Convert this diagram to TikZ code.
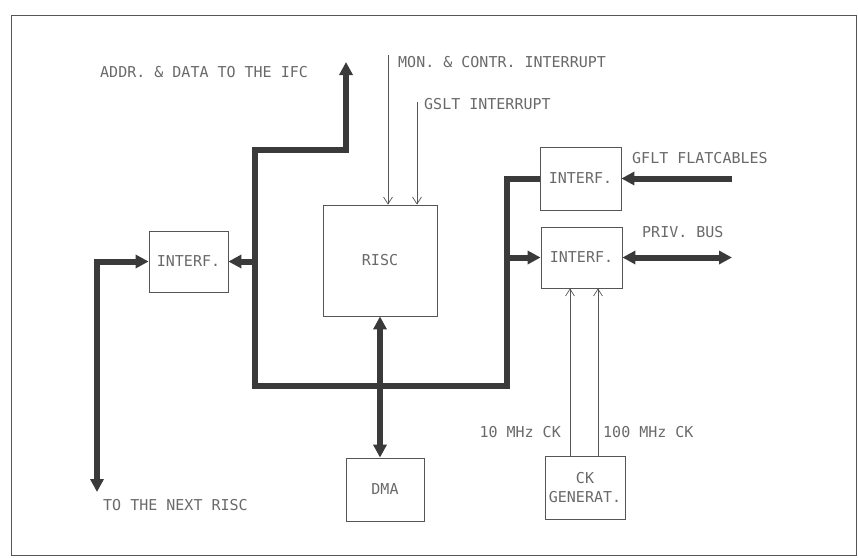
\documentclass[tikz,border=0pt]{standalone}
\usepackage{fontspec}
\setmonofont{DejaVu Sans Mono}
\usetikzlibrary{positioning, arrows.meta}
\definecolor{inkgray}{RGB}{85,85,85}
\definecolor{textgray}{RGB}{105,105,105}
\definecolor{busgray}{RGB}{58,58,58}
\newcommand{\plotfont}{\ttfamily\fontsize{15}{19}\selectfont}

\begin{document}
\begin{tikzpicture}[x=1pt, y=-1pt,
    box/.style={draw=inkgray, line width=0.8pt, inner sep=0pt, align=center,
        font=\plotfont, text=textgray},
    lbl/.style={font=\plotfont, text=textgray, inner sep=0pt, anchor=west},
    bus/.style={draw=busgray, line width=6pt},
    sig/.style={draw=inkgray, line width=0.7pt, -{Straight Barb[length=7pt,width=9pt]}},
    btip/.tip={Triangle[length=13pt,width=13pt]}
]
    \useasboundingbox (0,0) rectangle (858,557);
    \draw[inkgray, line width=1pt] (11,15) rectangle (856,555);

    % blocks
    \node[box, minimum width=114pt, minimum height=111pt] (risc) at (380,260.5) {RISC};
    \node[box, minimum width=79pt, minimum height=61pt] (ifleft) at (188.5,261.5) {INTERF.};
    \node[box, minimum width=78pt, minimum height=63pt] (dma) at (385,489.5) {DMA};
    \node[box, minimum width=81pt, minimum height=63pt] (iftop) at (580.5,178.5) {INTERF.};
    \node[box, minimum width=81pt, minimum height=61pt] (ifbus) at (581.5,257.5) {INTERF.};
    \node[box, minimum width=80pt, minimum height=63pt] (ckgen) at (585,487.5) {CK\\GENERAT.};

    % free ends
    \coordinate (ifc) at (346,62);
    \coordinate (busL) at (255,150);
    \coordinate (busR) at (507,386);
    \coordinate (nextrisc) at (97,492);
    \coordinate (gflt) at (732,178.5);
    \coordinate (priv) at (732,257.5);
    \coordinate (mon) at (388,55);
    \coordinate (gslt) at (417,102);

    % buses
    \draw[bus, -btip] (iftop.west) -| (busR) -| (busL) -| (ifc);
    \draw[bus, -btip] (ifleft.east -| busL) -- (ifleft.east);
    \draw[bus, -btip] (ifbus.west -| busR) -- (ifbus.west);
    \draw[bus, btip-btip] (risc.south) -- (risc.south |- dma.north);
    \draw[bus, btip-btip] (ifleft.west) -| (nextrisc);
    \draw[bus, -btip] (gflt) -- (iftop.east);
    \draw[bus, btip-btip] (ifbus.east) -- (priv);

    % signals
    \draw[sig] (mon) -- (mon |- risc.north);
    \draw[sig] (gslt) -- (gslt |- risc.north);
    \draw[sig] ([xshift=-15pt]ckgen.north) -- ([xshift=-15pt]ckgen.north |- ifbus.south);
    \draw[sig] ([xshift=13pt]ckgen.north) -- ([xshift=13pt]ckgen.north |- ifbus.south);

    % labels
    \node[lbl] (addrlbl) at (100,72) {ADDR. \& DATA TO THE IFC};
    \node[lbl] (monlbl) at (398,62) {MON. \& CONTR. INTERRUPT};
    \node[lbl] (gsltlbl) at (424,104) {GSLT INTERRUPT};
    \node[lbl] (gfltlbl) at (632,158) {GFLT FLATCABLES};
    \node[lbl] (privlbl) at (642,232) {PRIV. BUS};
    \node[lbl] (nextlbl) at (103,505) {TO THE NEXT RISC};
    \node[lbl, anchor=east] (tenlbl) at (561,432) {10 MHz CK};
    \node[lbl] (hundredlbl) at (603,432) {100 MHz CK};
\end{tikzpicture}
\end{document}
